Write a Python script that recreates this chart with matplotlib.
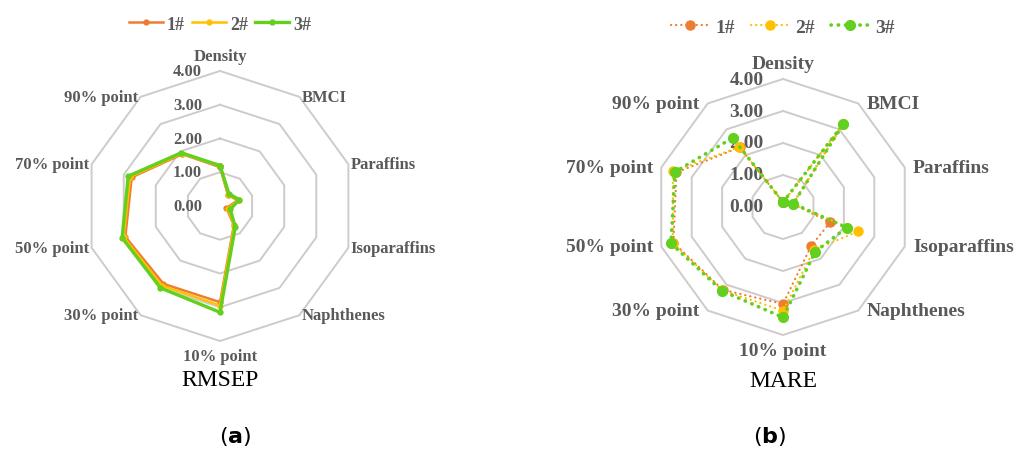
import numpy as np
import matplotlib.pyplot as plt

plt.rcParams['font.family'] = 'DejaVu Sans'
plt.rcParams['mathtext.fontset'] = 'dejavusans'

# Spoke names, clockwise from the top
categories = ['Density', 'BMCI', 'Paraffins', 'Isoparaffins', 'Naphthenes',
              '10% point', '30% point', '50% point', '70% point', '90% point']
series_names = ['1#', '2#', '3#']

# RMSEP of the three models
rmsep_1 = [1.15, 0.40, 0.55, 0.20, 0.70, 2.85, 2.85, 2.95, 2.75, 1.90]
rmsep_2 = [1.18, 0.42, 0.58, 0.25, 0.72, 2.95, 2.92, 3.00, 2.80, 1.92]
rmsep_3 = [1.20, 0.45, 0.60, 0.32, 0.77, 3.15, 3.00, 3.05, 2.86, 1.95]

# MARE of the three models
mare_1 = [0.15, 3.20, 0.32, 1.55, 1.50, 3.03, 3.20, 3.60, 3.50, 2.30]
mare_2 = [0.15, 3.20, 0.32, 2.47, 1.65, 3.24, 3.22, 3.62, 3.62, 2.32]
mare_3 = [0.15, 3.20, 0.34, 2.09, 1.72, 3.45, 3.24, 3.68, 3.55, 2.67]

ring_values = [1.0, 2.0, 3.0, 4.0]
tick_values = [0.0, 1.0, 2.0, 3.0, 4.0]

colors = ['#ED7D31', '#FFC000', '#62D01E']
label_gray = '#595959'
ring_gray = '#D0CACA'
serif = 'Liberation Serif'

angles = np.linspace(0, 2 * np.pi, len(categories), endpoint=False)
theta_closed = np.append(angles, angles[0])


def closed(values):
    return np.append(values, values[0])


def setup_radar(ax, label_size, tick_size, side_pad, tick_pad):
    ax.set_theta_offset(np.pi / 2)
    ax.set_theta_direction(-1)
    ax.set_ylim(0, 4)
    ax.grid(False)
    ax.spines['polar'].set_visible(False)
    ax.set_xticks([])
    ax.set_yticks([])
    ax.patch.set_alpha(0)

    # decagon rings
    for r in ring_values:
        ax.plot(theta_closed, [r] * len(theta_closed), color=ring_gray,
                lw=1.4, zorder=1, clip_on=False)

    # value labels along the vertical spoke
    for v in tick_values:
        ax.annotate(f'{v:.2f}', xy=(0, v), xytext=(-tick_pad, 0),
                    textcoords='offset points', ha='right', va='center',
                    family=serif, weight='bold', size=tick_size,
                    color=label_gray, annotation_clip=False)

    # spoke names outside the outer ring
    for ang, name in zip(angles, categories):
        dx, dy = np.sin(ang), np.cos(ang)
        if abs(dx) < 0.1:
            ha = 'center'
            va = 'bottom' if dy > 0 else 'top'
            off = (0, 5 if dy > 0 else -5)
        else:
            ha = 'left' if dx > 0 else 'right'
            va = 'center'
            off = (side_pad if dx > 0 else -side_pad, 0)
        ax.annotate(name, xy=(ang, 4), xytext=off, textcoords='offset points',
                    ha=ha, va=va, family=serif, weight='bold',
                    size=label_size, color=label_gray, annotation_clip=False)


fig = plt.figure(figsize=(10.2, 4.52), dpi=100)

# (a) RMSEP
ax1 = fig.add_axes([(220 - 135) / 1020, (452 - 207 - 135) / 452,
                    270 / 1020, 270 / 452], projection='polar')
setup_radar(ax1, label_size=12, tick_size=12, side_pad=1.5, tick_pad=13)
for vals, c, name, lw in zip([rmsep_1, rmsep_2, rmsep_3], colors,
                             series_names, [1.8, 1.8, 2.4]):
    ax1.plot(theta_closed, closed(vals), color=c, lw=lw, marker='o', ms=3.5,
             label=name, zorder=3, clip_on=False)
ax1.legend(loc='center', bbox_to_anchor=(0.5, 1.174), ncol=3, frameon=False,
           prop=dict(family=serif, weight='bold', size=13),
           labelcolor=label_gray, handlelength=1.9, handletextpad=0.2,
           columnspacing=0.4)

# (b) MARE, dotted lines
ax2 = fig.add_axes([(783 - 128) / 1020, (452 - 208 - 128) / 452,
                    256 / 1020, 256 / 452], projection='polar')
setup_radar(ax2, label_size=14, tick_size=14, side_pad=6, tick_pad=14)
for vals, c, name, lw, ms, gap in zip([mare_1, mare_2, mare_3], colors,
                                      series_names, [1.6, 1.6, 2.6],
                                      [6.5, 6.5, 7.0], [2.2, 2.2, 1.9]):
    ax2.plot(theta_closed, closed(vals), color=c, lw=lw,
             linestyle=(0, (0.1, gap)), dash_capstyle='round',
             marker='o', ms=ms, label=name, zorder=3, clip_on=False)
ax2.legend(loc='center', bbox_to_anchor=(0.5, 1.203), ncol=3, frameon=False,
           prop=dict(family=serif, weight='bold', size=14),
           labelcolor=label_gray, handlelength=2.0, handletextpad=0.3,
           columnspacing=0.8)

# panel titles and letters
fig.text(220 / 1020, 1 - 381 / 452, 'RMSEP', ha='center', va='center',
         family=serif, size=17)
fig.text(783 / 1020, 1 - 382 / 452, 'MARE', ha='center', va='center',
         family=serif, size=17)
fig.text(235 / 1020, 1 - 437 / 452, r'($\mathbf{a}$)', ha='center',
         va='center', size=16)
fig.text(770 / 1020, 1 - 437 / 452, r'($\mathbf{b}$)', ha='center',
         va='center', size=16)

fig.savefig('out.png', dpi=100)
